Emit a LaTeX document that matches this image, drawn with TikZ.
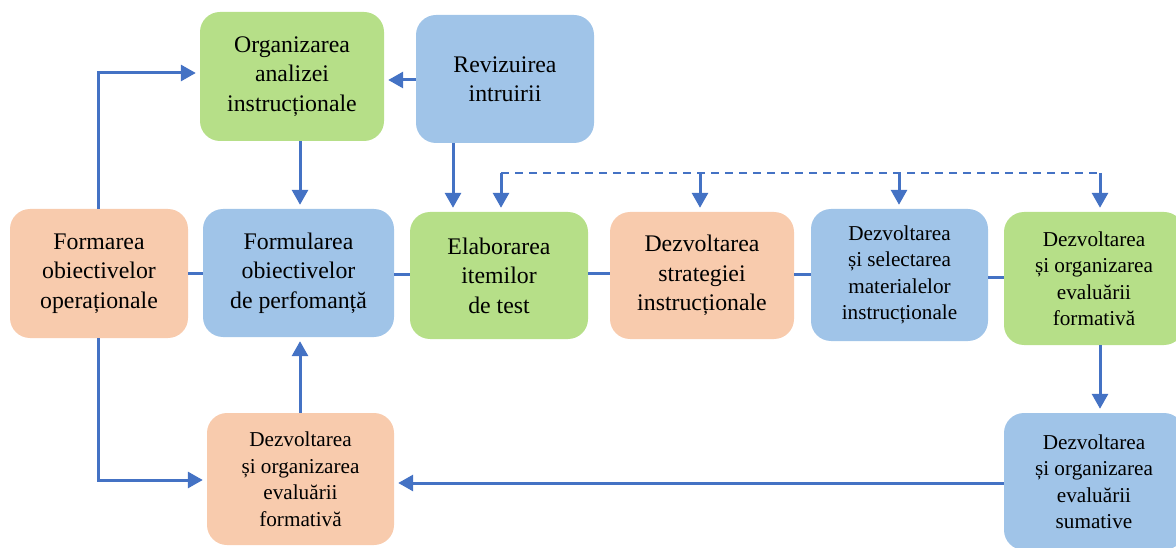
\documentclass[tikz,border=0pt]{standalone}
\usepackage{fontspec}
\setmainfont{Liberation Serif}
\usetikzlibrary{arrows.meta}
\definecolor{boxgreen}{RGB}{182,223,136}
\definecolor{boxblue}{RGB}{160,196,232}
\definecolor{boxorange}{RGB}{248,203,173}
\definecolor{linkblue}{RGB}{68,114,196}
\tikzset{
  stage/.style={rounded corners=20pt, inner sep=0pt, align=center, text=black},
  bigtext/.style={font=\fontsize{23.8}{29.5}\selectfont},
  smalltext/.style={font=\fontsize{21.2}{26.5}\selectfont},
  link/.style={draw=linkblue, line width=3pt},
  arr/.style={link, shorten >=4pt, -{Triangle[length=15pt,width=16pt]}},
  dashlink/.style={draw=linkblue, line width=2.3pt, dash pattern=on 8pt off 6pt},
}
\begin{document}
\begin{tikzpicture}[x=1pt,y=-1pt]
\useasboundingbox (0,0) rectangle (1176,548);

% stages
\node[stage,bigtext,fill=boxgreen,minimum width=184pt,minimum height=129pt] (b1) at (292,76.5) {Organizarea\\analizei\\instrucționale};
\node[stage,bigtext,fill=boxblue,minimum width=178pt,minimum height=128pt] (b2) at (505,79) {Revizuirea\\intruirii};
\node[stage,bigtext,fill=boxorange,minimum width=178pt,minimum height=129pt] (b3) at (99,273.5) {Formarea\\obiectivelor\\operaționale};
\node[stage,bigtext,fill=boxblue,minimum width=191pt,minimum height=128pt] (b4) at (298.5,273) {Formularea\\obiectivelor\\de perfomanță};
\node[stage,bigtext,fill=boxgreen,minimum width=178pt,minimum height=127pt] (b5) at (499,275.5) {Elaborarea\\itemilor\\de test};
\node[stage,bigtext,fill=boxorange,minimum width=184pt,minimum height=127pt] (b6) at (702,275.5) {Dezvoltarea\\strategiei\\instrucționale};
\node[stage,smalltext,fill=boxblue,minimum width=177pt,minimum height=132pt] (b7) at (899.5,275) {Dezvoltarea\\și selectarea\\materialelor\\instrucționale};
\node[stage,smalltext,fill=boxgreen,minimum width=180pt,minimum height=133pt] (b8) at (1094,278.5) {Dezvoltarea\\și organizarea\\evaluării\\formativă};
\node[stage,smalltext,fill=boxorange,minimum width=187pt,minimum height=132pt] (b9) at (300.5,479) {Dezvoltarea\\și organizarea\\evaluării\\formativă};
\node[stage,smalltext,fill=boxblue,minimum width=180pt,minimum height=137pt] (b10) at (1094,481.5) {Dezvoltarea\\și organizarea\\evaluării\\sumative};

% guide coordinates for the connectors
\coordinate (xa) at (300,0);
\coordinate (xr) at (453,0);
\coordinate (xl) at (98,0);
\coordinate (yl) at (0,73);
\coordinate (yr) at (0,80);
\coordinate (yb) at (0,480);
\coordinate (yc) at (0,483);
\coordinate (d0) at (501,173);
\coordinate (d1) at (700,173);
\coordinate (d2) at (899,173);
\coordinate (d3) at (1100,173);
\coordinate (r1) at (0,274);
\coordinate (r2) at (0,275);
\coordinate (r3) at (0,278);

% top feedback
\draw[arr] (b2.west |- yr) -- (b1.east |- yr);
\draw[arr] (b1.south -| xa) -- (b4.north -| xa);
\draw[arr] (b2.south -| xr) -- (b5.north -| xr);
\draw[arr] (b3.north -| xl) |- (b1.west |- yl);

% dashed distribution line
\draw[dashlink] (d0) -- (d3);
\draw[arr] (d0) -- (b5.north -| d0);
\draw[arr] (d1) -- (b6.north -| d1);
\draw[arr] (d2) -- (b7.north -| d2);
\draw[arr] (d3) -- (b8.north -| d3);

% main row
\draw[link] (b3.east |- r1) -- (b4.west |- r1);
\draw[link] (b4.east |- r2) -- (b5.west |- r2);
\draw[link] (b5.east |- r1) -- (b6.west |- r1);
\draw[link] (b6.east |- r2) -- (b7.west |- r2);
\draw[link] (b7.east |- r3) -- (b8.west |- r3);

% lower loop
\draw[arr] (b8.south -| d3) -- (b10.north -| d3);
\draw[arr] (b10.west |- yc) -- (b9.east |- yc);
\draw[arr] (b9.north -| xa) -- (b4.south -| xa);
\draw[arr] (b3.south -| xl) |- (b9.west |- yb);
\end{tikzpicture}
\end{document}
